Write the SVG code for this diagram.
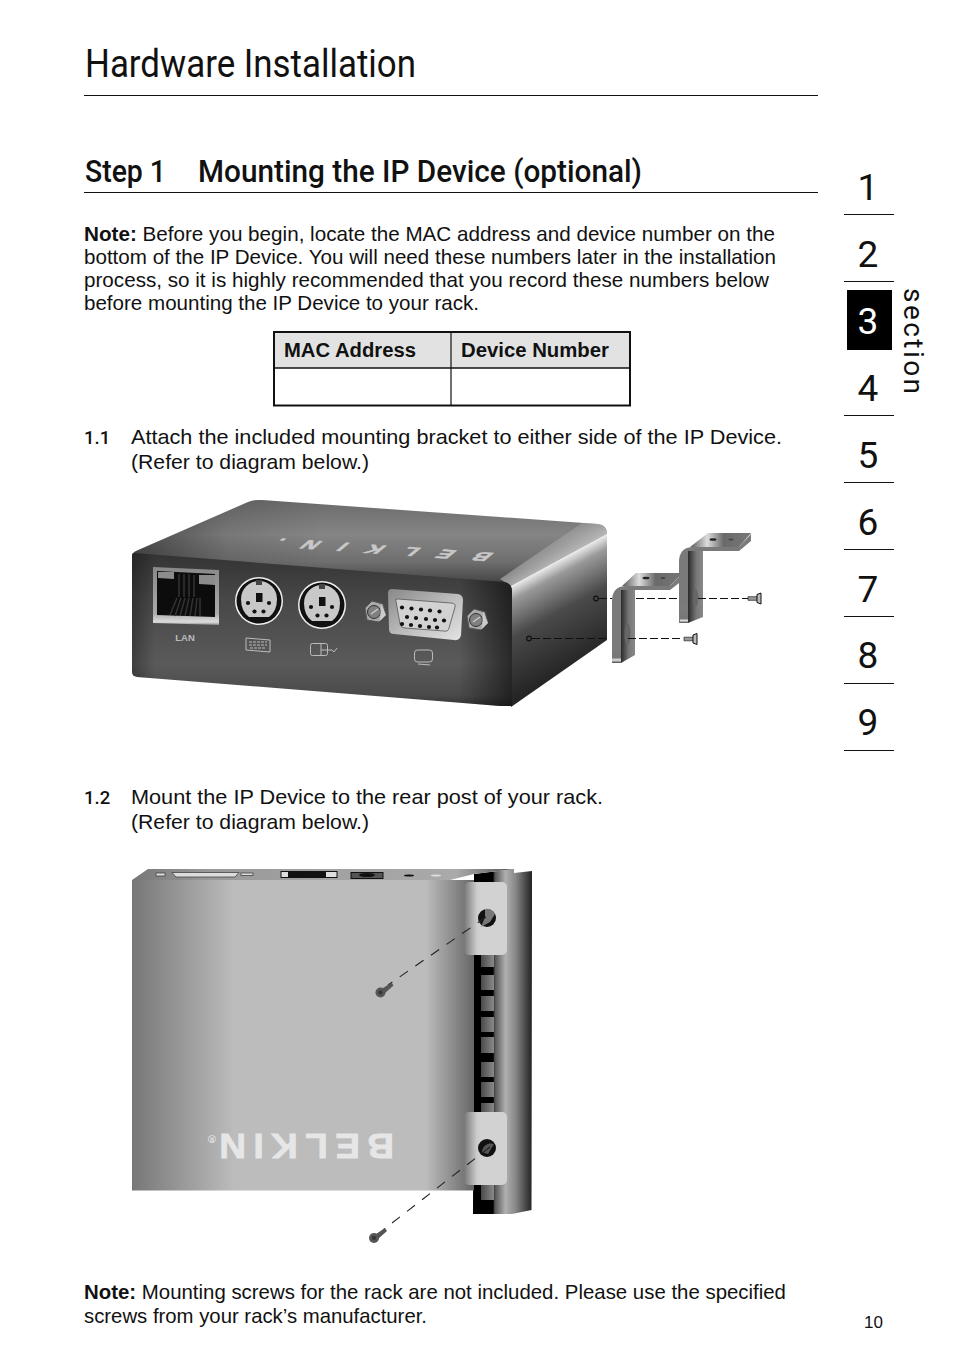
<svg xmlns="http://www.w3.org/2000/svg" xmlns:xlink="http://www.w3.org/1999/xlink" width="954" height="1363" viewBox="0 0 954 1363">
<style>
.b{font-family:"Liberation Sans",Arial,sans-serif;font-size:20.3px;fill:#111}
.bb{font-weight:700}
.h{font-family:Roboto,"Liberation Sans",sans-serif;fill:#111}
.d{font-family:Roboto,"Liberation Sans",sans-serif;font-size:37px;text-anchor:middle;fill:#111}
.dash1{fill:none;stroke:#111;stroke-width:1.2;stroke-dasharray:8 3}
.dash2{fill:none;stroke:#222;stroke-width:1.1;stroke-dasharray:10 9}
.pin{fill:#111}
.rule{stroke:#111;stroke-width:1}
</style>
<defs>
<linearGradient id="gTop" x1="0" y1="0" x2="0" y2="1"><stop offset="0" stop-color="#6a6a6a"/><stop offset=".4" stop-color="#858585"/><stop offset=".72" stop-color="#6e6e6e"/><stop offset=".93" stop-color="#4a4a4a"/><stop offset="1" stop-color="#2a2a2a"/></linearGradient>
<linearGradient id="gTopL" x1="0" y1="0" x2="1" y2="0"><stop offset="0" stop-color="#000" stop-opacity=".45"/><stop offset=".2" stop-color="#000" stop-opacity=".1"/><stop offset=".4" stop-color="#000" stop-opacity="0"/></linearGradient>
<linearGradient id="gFront" x1="0" y1="0" x2="0" y2="1"><stop offset="0" stop-color="#333"/><stop offset=".3" stop-color="#474747"/><stop offset=".72" stop-color="#5a5a5a"/><stop offset=".93" stop-color="#4a4a4a"/><stop offset="1" stop-color="#333"/></linearGradient>
<linearGradient id="gFrontH" x1="0" y1="0" x2="1" y2="0"><stop offset="0" stop-color="#000" stop-opacity=".3"/><stop offset=".06" stop-color="#000" stop-opacity="0"/><stop offset=".86" stop-color="#000" stop-opacity="0"/><stop offset="1" stop-color="#000" stop-opacity=".55"/></linearGradient>
<linearGradient id="gRight" gradientUnits="userSpaceOnUse" x1="555" y1="552" x2="607" y2="648"><stop offset="0" stop-color="#aaa"/><stop offset=".08" stop-color="#eee"/><stop offset=".2" stop-color="#999"/><stop offset=".5" stop-color="#4a4a4a"/><stop offset="1" stop-color="#252525"/></linearGradient>
<linearGradient id="gEdge" gradientUnits="userSpaceOnUse" x1="540" y1="526" x2="559" y2="560"><stop offset="0" stop-color="#999" stop-opacity="0"/><stop offset="1" stop-color="#bbb" stop-opacity=".9"/></linearGradient>
<linearGradient id="gBrk" x1="0" y1="0" x2="1" y2="0"><stop offset="0" stop-color="#2a2a2a"/><stop offset=".55" stop-color="#777"/><stop offset="1" stop-color="#888"/></linearGradient>
<linearGradient id="gStrip" x1="0" y1="0" x2="0" y2="1"><stop offset="0" stop-color="#7c7c7c"/><stop offset=".74" stop-color="#777"/><stop offset=".86" stop-color="#e4e4e4"/><stop offset="1" stop-color="#444"/></linearGradient>
<linearGradient id="gPlate" x1="0" y1="0" x2="1" y2="0"><stop offset="0" stop-color="#555"/><stop offset=".28" stop-color="#ddd"/><stop offset=".55" stop-color="#6a6a6a"/><stop offset="1" stop-color="#777"/></linearGradient>
<linearGradient id="gBody" x1="0" y1="0" x2="1" y2="0"><stop offset="0" stop-color="#777"/><stop offset=".3" stop-color="#bcbcbc"/><stop offset=".86" stop-color="#bcbcbc"/><stop offset="1" stop-color="#666"/></linearGradient>
<linearGradient id="gStrip2" x1="0" y1="0" x2="1" y2="0"><stop offset="0" stop-color="#777"/><stop offset=".2" stop-color="#999"/><stop offset=".85" stop-color="#aaa"/><stop offset="1" stop-color="#555"/></linearGradient>
<linearGradient id="gRack" x1="0" y1="0" x2="1" y2="0"><stop offset="0" stop-color="#000"/><stop offset=".34" stop-color="#000"/><stop offset=".37" stop-color="#555"/><stop offset=".55" stop-color="#b0b0b0"/><stop offset=".72" stop-color="#888"/><stop offset="1" stop-color="#222"/></linearGradient>
<linearGradient id="gEar" x1="0" y1="0" x2="1" y2="0"><stop offset="0" stop-color="#777"/><stop offset=".3" stop-color="#ccc"/><stop offset=".4" stop-color="#d2d2d2"/><stop offset="1" stop-color="#d2d2d2"/></linearGradient>
<linearGradient id="gSq" x1="0" y1="0" x2="1" y2="0"><stop offset="0" stop-color="#4a4a4a"/><stop offset="1" stop-color="#8a8a8a"/></linearGradient>
<linearGradient id="gLan" x1="0" y1="0" x2="0" y2="1"><stop offset="0" stop-color="#888"/><stop offset=".8" stop-color="#aaa"/><stop offset=".95" stop-color="#ddd"/><stop offset="1" stop-color="#888"/></linearGradient>
<linearGradient id="gVga" x1="0" y1="0" x2="1" y2="1"><stop offset="0" stop-color="#888"/><stop offset=".5" stop-color="#bbb"/><stop offset="1" stop-color="#e4e4e4"/></linearGradient>
<g id="ps2"><circle r="24" fill="#f0f0f0"/><circle r="22.500" fill="#111"/><path d="M-18-2A18 18 0 0 1 18-2Q18 10 10 16H-10Q-18 10-18-2Z" fill="#c8c8c8"/><rect x="-3" y="-8" width="6.500" height="9" fill="#111"/><rect x="-3" y="-21" width="6" height="5" fill="#444"/><circle class="pin" cx="-11" cy="2" r="2.100"/><circle class="pin" cx="10" cy="2" r="2.100"/><circle class="pin" cx="-4.500" cy="10.500" r="2.100"/><circle class="pin" cx="4.500" cy="10.500" r="2.100"/></g>
<g id="hex"><path d="M-10-4L-3-11L8-8L11 3L4 10L-8 8Z" fill="#aaa" stroke="#555"/><circle cx="-1" r="6.500" fill="#808080" stroke="#333"/><path d="M-4 2L3-3" stroke="#ccc" stroke-width="1.300"/><path d="M6-8L11 3L5 9Z" fill="#ccc"/></g>
<g id="screwH"><path d="M-7-1.800H2L3-3V3L2 1.800H-7Z" fill="#999" stroke="#222" stroke-width=".7"/><path d="M2-4L6-5.500V5.500L2 4Z" fill="#bbb" stroke="#111"/></g>
<g id="screwD"><circle r="5" fill="#555"/><path d="M2-4L11-10L13-7L4 1Z" fill="#555"/><circle r="2" fill="#333"/></g>
</defs>

<g id="header">
<text class="h" x="85" y="77" font-size="39" textLength="331" lengthAdjust="spacingAndGlyphs">Hardware Installation</text>
<line class="rule" x1="84" y1="95.500" x2="818" y2="95.500"/>
<text class="h" x="85" y="182" font-size="31" font-weight="500" textLength="81" lengthAdjust="spacingAndGlyphs">Step 1</text>
<text class="h" x="198" y="182" font-size="31" font-weight="500" textLength="444" lengthAdjust="spacingAndGlyphs">Mounting the IP Device (optional)</text>
<line class="rule" x1="84" y1="192.500" x2="818" y2="192.500"/>
</g>

<g id="note-top">
<text class="b" x="84" y="241" textLength="691" lengthAdjust="spacingAndGlyphs"><tspan class="bb">Note:</tspan> Before you begin, locate the MAC address and device number on the</text>
<text class="b" x="84" y="264" textLength="692" lengthAdjust="spacingAndGlyphs">bottom of the IP Device. You will need these numbers later in the installation</text>
<text class="b" x="84" y="287" textLength="685" lengthAdjust="spacingAndGlyphs">process, so it is highly recommended that you record these numbers below</text>
<text class="b" x="84" y="310" textLength="395" lengthAdjust="spacingAndGlyphs">before mounting the IP Device to your rack.</text>
</g>

<g id="table">
<rect x="274" y="332" width="356" height="36" fill="#e2e2e2"/>
<rect x="274" y="332" width="356" height="73.500" fill="none" stroke="#111" stroke-width="2"/>
<line x1="274" y1="368" x2="630" y2="368" stroke="#111" stroke-width="1.500"/>
<line x1="451" y1="332" x2="451" y2="405" stroke="#111" stroke-width="1.200"/>
<text class="b bb" x="284" y="357" textLength="132" lengthAdjust="spacingAndGlyphs">MAC Address</text>
<text class="b bb" x="461" y="357" textLength="148" lengthAdjust="spacingAndGlyphs">Device Number</text>
</g>

<g id="step-1-1">
<text class="h" x="84" y="444" font-size="18.500" font-weight="500">1.1</text>
<text class="b" x="131" y="444" textLength="651" lengthAdjust="spacingAndGlyphs">Attach the included mounting bracket to either side of the IP Device.</text>
<text class="b" x="131" y="469" textLength="238" lengthAdjust="spacingAndGlyphs">(Refer to diagram below.)</text>
</g>

<g id="device-1">
<path d="M132 556Q132 553 136 551L248 502Q254 499.500 262 500L598 524Q607 525 607 534L511 586L134 556Z" fill="url(#gTop)"/>
<path d="M132 556Q132 553 136 551L248 502Q254 499.500 262 500L598 524Q607 525 607 534L511 586L134 556Z" fill="url(#gTopL)"/>
<path d="M511 586L607 534Q607 525 598 524L582 523L500 579Z" fill="url(#gEdge)"/>
<text transform="matrix(-1.6 -.11 1 -.85 495 553)" font-family="Liberation Sans,sans-serif" font-size="14" font-weight="700" fill="#c8c8c8" stroke="#c8c8c8" stroke-width=".5" letter-spacing="13">BELKIN.</text>
<path d="M511 586L607 534V640L511 707Z" fill="url(#gRight)"/>
<path d="M134 553L504 582Q511 583 512 590V706L500 706L137 677Q132 676 132 672V556Q132 553 134 553Z" fill="url(#gFront)"/>
<path d="M134 553L504 582Q511 583 512 590V706L500 706L137 677Q132 676 132 672V556Q132 553 134 553Z" fill="url(#gFrontH)"/>

<path d="M153 567L219 570V625L153 623Z" fill="url(#gLan)"/>
<path d="M157 571L215 574V617L157 615Z" fill="#0c0c0c"/>
<path d="M158 572H174V579L158 578Z" fill="#8c8c8c"/>
<path d="M199 575H215V585L199 584Z" fill="#8c8c8c"/>
<g stroke="#333" stroke-width="1.500" fill="none">
<path d="M179 574V597M184 574V597M189 574V597M194 575V597"/>
<path d="M170 615L177 598M175 616L181 598M180 616L185 598M185 616L189 598M190 616L193 598M195 616L197 598M200 616L200 598"/>
</g>
<text x="185" y="641" font-family="Liberation Sans,sans-serif" font-size="9.500" font-weight="700" text-anchor="middle" fill="#bbb">LAN</text>

<use href="#ps2" xlink:href="#ps2" x="259" y="601"/>
<use href="#ps2" xlink:href="#ps2" x="322" y="605"/>

<use href="#hex" xlink:href="#hex" x="375" y="612"/>
<use href="#hex" xlink:href="#hex" x="477" y="620"/>
<path d="M392 589L458 594Q463 595 463 600L461 635Q460 641 454 640L394 634Q389 634 389 629L388 593Q388 589 392 589Z" fill="url(#gVga)"/>
<path d="M396 601Q394 599 398 599L451 603Q456 603 455 607L449 628Q448 632 444 631L405 628Q401 628 400 624Z" fill="#d2d2d2" stroke="#555" stroke-width=".8"/>
<g class="pin">
<circle cx="402" cy="607.500" r="2.100"/><circle cx="411.500" cy="608.500" r="2.100"/><circle cx="421" cy="609.500" r="2.100"/><circle cx="430" cy="610.500" r="2.100"/><circle cx="439.500" cy="611.500" r="2.100"/>
<circle cx="407" cy="617" r="2.100"/><circle cx="416" cy="618" r="2.100"/><circle cx="426" cy="619" r="2.100"/><circle cx="435" cy="620" r="2.100"/><circle cx="444" cy="620.500" r="2.100"/>
<circle cx="402" cy="624" r="2.100"/><circle cx="411" cy="625" r="2.100"/><circle cx="420" cy="626" r="2.100"/><circle cx="429" cy="627" r="2.100"/><circle cx="437" cy="627.500" r="2.100"/>
</g>
<g fill="none" stroke="#bbb" stroke-width="1">
<path d="M246 638L270 640V652L246 650Z"/>
<path d="M249 642H267M249 645H267M250 648H266" stroke-dasharray="3 1"/>
<rect x="310.500" y="643.500" width="17" height="12" rx="2"/>
<path d="M321 643.500V655M321 650H327M328 650H332L334 652L337 648"/>
<rect x="414.500" y="650" width="18" height="12" rx="3"/>
<path d="M418 664L430 665"/>
</g>
</g>

<g id="bracket-back">
<path d="M690 547L708 533H751L739 547Z" fill="url(#gPlate)"/>
<ellipse cx="713" cy="539.500" rx="3.500" ry="1.300" fill="#222"/><ellipse cx="731" cy="539.500" rx="2.500" ry="1" fill="#444"/>
<path d="M688 551H703V617L688 623Z" fill="url(#gBrk)"/>
<path d="M679 623V562Q679 548 692 547H739L751 534V541L739 551H688V622L680 623Z" fill="#7a7a7a"/>
<path d="M680 606H688V623H680Z" fill="url(#gStrip)"/>
<ellipse cx="695.500" cy="598" rx="2.500" ry="9" fill="#666"/>
</g>
<g id="bracket-front">
<path d="M622 586L636 573H683L670 586Z" fill="url(#gPlate)"/>
<ellipse cx="646" cy="578" rx="3.500" ry="1.300" fill="#222"/><ellipse cx="663" cy="578" rx="2.500" ry="1" fill="#444"/>
<path d="M621 590H635V655L621 663Z" fill="url(#gBrk)"/>
<path d="M612 663V601Q612 587 625 586H670L683 573V580L670 590H621V663Z" fill="#7a7a7a"/>
<path d="M612 642H621V663H612Z" fill="url(#gStrip)"/>
<ellipse cx="627.500" cy="634" rx="3" ry="11" fill="#666"/>
</g>

<g id="connectors-1">
<circle cx="596" cy="598.500" r="2.300" fill="none" stroke="#111" stroke-width="1.200"/>
<circle cx="529" cy="638.500" r="2.300" fill="none" stroke="#111" stroke-width="1.200"/>
<path class="dash1" d="M599 598.500H612M636 598.500H679M698 598.500H748"/>
<path class="dash1" d="M532 638.500H608M628 638.500H683"/>
<use href="#screwH" xlink:href="#screwH" x="755" y="598.500"/>
<use href="#screwH" xlink:href="#screwH" x="691" y="639"/>
</g>

<g id="step-1-2">
<text class="h" x="84" y="804" font-size="18.500" font-weight="500">1.2</text>
<text class="b" x="131" y="804" textLength="472" lengthAdjust="spacingAndGlyphs">Mount the IP Device to the rear post of your rack.</text>
<text class="b" x="131" y="829" textLength="238" lengthAdjust="spacingAndGlyphs">(Refer to diagram below.)</text>
</g>

<g id="device-2">
<path d="M474 874L514 869V873L532 871V898L531.500 1210L512 1214H473Z" fill="url(#gRack)"/>
<g fill="url(#gSq)">
<rect x="481" y="955" width="13" height="12"/><rect x="481" y="975" width="13" height="15"/><rect x="481" y="996" width="13" height="15"/><rect x="481" y="1017" width="13" height="15"/><rect x="481" y="1037" width="13" height="16"/><rect x="481" y="1062" width="13" height="15"/><rect x="481" y="1082" width="13" height="15"/><rect x="481" y="1103" width="13" height="10"/><rect x="481" y="1185" width="13" height="15"/>
</g>
<path d="M132 880H474V1190.500H132Z" fill="url(#gBody)"/>
<path d="M132 880L148 869H514L474 874L450 880Z" fill="url(#gStrip2)"/>
<g fill="#ddd" stroke="#444" stroke-width=".8">
<rect x="156" y="873" width="9" height="3"/><rect x="241" y="873" width="12" height="2.500"/>
<path d="M172 872.500H239L235 877H176Z"/>
</g>
<rect x="281" y="871.500" width="56" height="6" fill="#ddd" stroke="#111"/>
<rect x="288" y="872" width="38" height="5.500" fill="#111"/>
<rect x="351" y="872.500" width="32" height="6" fill="#555" stroke="#111"/>
<ellipse cx="367" cy="875" rx="8" ry="2" fill="#111"/>
<ellipse cx="409" cy="875.500" rx="5" ry="1" fill="#111"/>
<ellipse cx="436" cy="875.500" rx="5" ry="1" fill="#ddd"/>
<text transform="rotate(180 394 1134)" x="394" y="1134" font-family="Liberation Sans,sans-serif" font-size="35" font-weight="700" fill="#e6e6e6" stroke="#e6e6e6" stroke-width=".8" letter-spacing="7" textLength="182" lengthAdjust="spacingAndGlyphs">BELKIN</text>
<text transform="rotate(180 216 1135)" x="216" y="1135" font-family="Liberation Sans,sans-serif" font-size="11" fill="#eee">®</text>

<rect x="464" y="882" width="43" height="73" rx="5" fill="url(#gEar)"/>
<rect x="464" y="1112" width="43" height="73" rx="5" fill="url(#gEar)"/>
<circle cx="487" cy="918" r="9" fill="#111"/><path d="M485 909A9 9 0 0 1 495 914L490 922L481 927L485 917Z" fill="#777"/>
<circle cx="487" cy="1148" r="9" fill="#111"/><path d="M482 1152A9 9 0 0 1 494 1144L488 1154Z" fill="#555"/>
</g>

<g id="connectors-2">
<path class="dash2" d="M486 917L388 985"/>
<path class="dash2" d="M490 1147L383 1230"/>
<use href="#screwD" xlink:href="#screwD" x="380.500" y="992.500"/>
<use href="#screwD" xlink:href="#screwD" x="374" y="1238"/>
</g>

<g id="note-bottom">
<text class="b" x="84" y="1299" textLength="702" lengthAdjust="spacingAndGlyphs"><tspan class="bb">Note:</tspan> Mounting screws for the rack are not included. Please use the specified</text>
<text class="b" x="84" y="1323" textLength="343" lengthAdjust="spacingAndGlyphs">screws from your rack’s manufacturer.</text>
</g>

<g id="section-nav">
<rect x="847" y="290" width="45" height="60" fill="#000"/>
<text class="d" x="868" y="200">1</text>
<text class="d" x="868" y="267">2</text>
<text class="d" x="868" y="334" style="fill:#fff">3</text>
<text class="d" x="868" y="401">4</text>
<text class="d" x="868" y="468">5</text>
<text class="d" x="868" y="535">6</text>
<text class="d" x="868" y="602">7</text>
<text class="d" x="868" y="668">8</text>
<text class="d" x="868" y="735">9</text>
<g class="rule">
<line x1="844" y1="214.500" x2="894" y2="214.500"/><line x1="844" y1="281.500" x2="894" y2="281.500"/><line x1="844" y1="415.500" x2="894" y2="415.500"/><line x1="844" y1="482.500" x2="894" y2="482.500"/><line x1="844" y1="549.500" x2="894" y2="549.500"/><line x1="844" y1="616.500" x2="894" y2="616.500"/><line x1="844" y1="683.500" x2="894" y2="683.500"/><line x1="844" y1="750.500" x2="894" y2="750.500"/>
</g>
<text class="h" transform="rotate(90 904 288)" x="904" y="288" font-size="28" textLength="106" lengthAdjust="spacing">section</text>
</g>
<text id="page-number" x="864" y="1328" font-family="Liberation Sans,sans-serif" font-size="17" fill="#111">10</text>
</svg>
